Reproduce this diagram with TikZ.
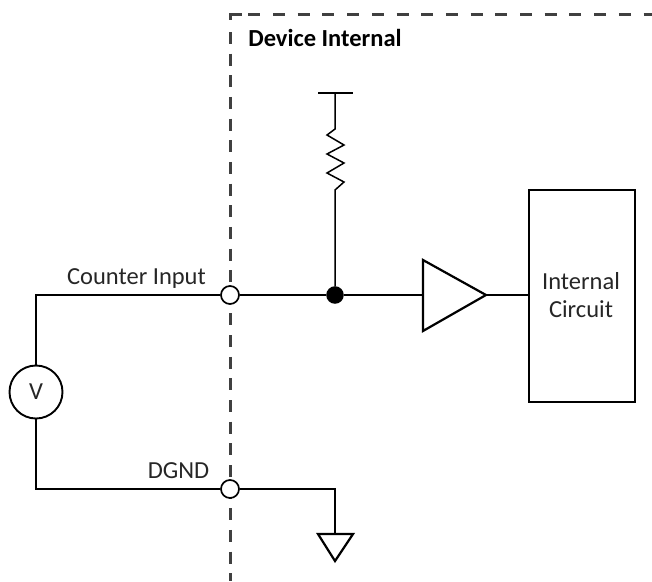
\documentclass[tikz,border=0pt]{standalone}
\usepackage{fontspec}
\setmainfont{Carlito}
\usetikzlibrary{arrows}
\begin{document}
\begin{tikzpicture}[x=1pt,y=-1pt,line width=1.5pt,
	pin/.style={circle,draw=black,fill=white,line width=1.7pt,inner sep=0pt,minimum size=18pt},
	lbl/.style={font=\fontsize{24.5}{29}\selectfont,text=black!85,inner sep=0pt},
	edge/.style={line width=3pt,black!75}]
	\useasboundingbox (0,0) rectangle (652,581);
	
	% boundary
	
	\draw[edge] (241.5,14) -- (230,14) -- (230,20);
	\draw[edge,dash pattern=on 12pt off 12.7pt] (248.3,14) -- (652,14);
	\draw[edge,dash pattern=on 12pt off 9.65pt] (230,32) -- (230,581);
	\node[lbl,font=\fontsize{24.5}{29}\selectfont\bfseries,text=black] (Dev) at (325,38) {Device Internal};
	
	% pins
	
	\node[pin] (P1) at (230,295) {};
	\node[pin] (P2) at (230,489) {};
	\node[lbl] (L1) at (136.5,278.5) {Counter Input};
	\node[lbl] (L2) at (178.5,471) {DGND};
	
	% meter
	
	\node[circle,draw=black,line width=1.9pt,inner sep=0pt,minimum size=53pt,lbl] (V) at (36,392) {V};
	\coordinate (C1) at (36,295);
	\coordinate (C2) at (36,489);
	\draw (V) -- (C1) -- (P1);
	\draw (V) -- (C2) -- (P2);
	
	% pull up
	
	\node[circle,draw=black,fill=black,inner sep=0pt,minimum size=16pt] (J) at (335,295) {};
	\coordinate (R1) at (335,93);
	\coordinate (R2) at (335,129);
	\coordinate (R3) at (335,190);
	\draw (318,93) -- (353,93);
	\draw (R1) -- (R2) -- (327,135) -- (344,145) -- (327,154) -- (344,163) -- (327,173) -- (344,182) -- (R3) -- (J);
	\draw (P1) -- (J);
	
	% buffer
	
	\coordinate (B1) at (423,260);
	\coordinate (B2) at (486,295);
	\coordinate (B3) at (423,331);
	\coordinate (B4) at (423,295);
	\draw[line width=2.2pt,line join=miter] (B1) -- (B2) -- (B3) -- cycle;
	\draw (J) -- (B4);
	\node[draw=black,line width=2.2pt,minimum width=106pt,minimum height=212pt,inner sep=0pt] (Circ) at (582,296) {};
	\node[lbl] (T1) at (581,281) {Internal};
	\node[lbl] (T2) at (581,309) {Circuit};
	\draw (B2) -- (B2 -| Circ.west);
	
	% ground
	
	\coordinate (G1) at (335,489);
	\coordinate (G2) at (335,534);
	\draw (P2) -- (G1) -- (G2);
	\draw[line width=2.2pt,line join=miter] (318,534) -- (353,534) -- (335,561) -- cycle;
	
\end{tikzpicture}
\end{document}
